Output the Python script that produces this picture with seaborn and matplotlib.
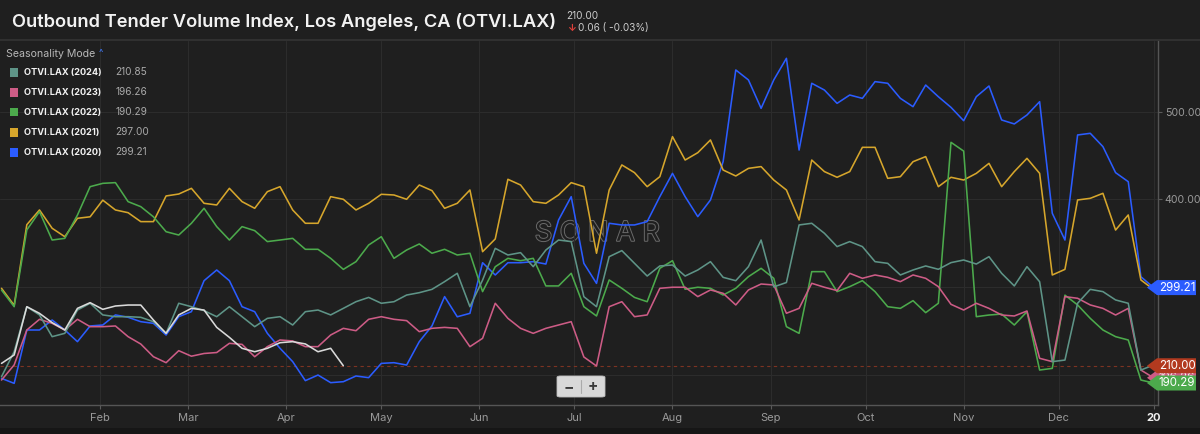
import numpy as np
import pandas as pd
import seaborn as sns
import matplotlib.pyplot as plt
import matplotlib.transforms as mtransforms
import matplotlib.patheffects as pe
from matplotlib.patches import Polygon, Rectangle, FancyBboxPatch
from matplotlib.lines import Line2D

# day of year, sampled every 4 days
days = list(range(0, 365, 4))

otvi_2020 = [195.6, 189.9, 250.8, 250.8, 262.2, 250.8, 237.5, 255.4, 256.5, 268, 265.3, 260.3,
             258.4, 245.1, 266, 271.7, 307.1, 319.3, 307.1, 277.4, 271.7, 247, 229.9, 214.7,
             193, 199.4, 190.7, 191.8, 198.3, 196.4, 212.7, 213.5, 210.8, 237.5, 255.4, 288.9,
             265.9, 269.8, 327.6, 313.6, 327.6, 327.6, 328.8, 326.1, 376.3, 403, 326.9, 304,
             372.6, 370.7, 370.7, 374.5, 403, 429.6, 403, 380.2, 399.2, 443, 547.6, 536.2,
             503.8, 536.2, 560.9, 456.2, 532.4, 524.7, 509.5, 519, 515.2, 534.3, 532.4,
             515.2, 505.7, 530.4, 517.1, 504.9, 489.7, 517.1, 529.3, 490.5, 486, 496.2,
             511.4, 384, 353.5, 473.4, 475.3, 460.1, 430.4, 420.1, 311.6, 299.21]

otvi_2021 = [298.4, 279, 371, 387.8, 366.9, 357.3, 378.3, 380, 399, 387.8, 384.7, 374.5,
             374.5, 403.8, 406, 412.5, 395.4, 393.5, 412.5, 397.3, 389.7, 408.7, 414.4, 387.8,
             372.6, 372.6, 403, 400, 387.8, 395.4, 405.7, 404.9, 400, 416.3, 409.9, 389.7,
             395.4, 410.6, 340.2, 354.7, 422.8, 416.3, 397.3, 395.4, 404.9, 419, 414.4, 338.4,
             410.6, 439.2, 430.4, 414.4, 425.8, 471.5, 444.8, 453.2, 467.7, 433.4, 426.6, 435.3,
             437.3, 422, 410.6, 376.4, 444.8, 431.6, 425.1, 431.6, 459.3, 459.3, 423.9,
             425.8, 442.9, 448.7, 414.4, 425.1, 422, 429.6, 441, 414.4, 431.6, 446.7,
             429.6, 313.6, 320, 399.2, 401.1, 406.8, 364.9, 382.1, 307.9, 297.0]

otvi_2022 = [296.4, 277.4, 365, 385.9, 353.5, 355.4, 382, 414.4, 418.2, 419, 397.3, 391.6,
             380, 363, 359.2, 372.6, 389.7, 368.8, 353.5, 368.8, 364.2, 351.7, 353.5, 355.4,
             342.9, 342.9, 332.6, 320, 328.8, 347.8, 357.3, 332.6, 342.1, 349, 338.4, 342.9,
             336.4, 338.4, 294.6, 323, 332.6, 329.9, 332.6, 301.1, 301.1, 315.5, 277.4, 266.8,
             307.9, 298.4, 288, 283.1, 321.2, 329.9, 297.3, 299.6, 298.4, 290.7, 298.4, 311.7,
             321.2, 309.8, 254.6, 247, 317.4, 317.4, 294.6, 300.3, 307.1, 294.6, 277.4,
             275.5, 284.3, 270.6, 281.3, 465, 455, 266, 267.9, 269, 256.5, 271.7,
             205.1, 207, 290.6, 279.4, 264.1, 250.8, 243.2, 239.4, 193.7, 190.29]

otvi_2023 = [193.7, 210.9, 250.8, 263, 258.4, 250.8, 263, 254.6, 254.6, 255.4, 243.2, 234.8,
             220.3, 213.5, 227.2, 220.9, 224, 225.1, 235.6, 234.4, 220.3, 231.8, 239.4, 238.3,
             231.8, 231.8, 245.1, 252.7, 250, 263, 266, 263, 261.5, 248.9, 252.7, 253.8,
             252.7, 231.8, 241.3, 281.3, 264.1, 252.7, 247, 252.7, 256.5, 260.3, 220, 209.7,
             277.4, 283.1, 266, 268, 298.4, 299.6, 299.6, 288.9, 296.5, 292.7, 279.4, 296.5,
             303.3, 302.2, 269.9, 275.5, 304.1, 299.6, 295.8, 315.5, 309.8, 313.6, 310.9,
             306, 313.6, 309.8, 300.3, 280.1, 273.6, 281.3, 275.5, 267.9, 266.8, 272.5,
             218.5, 214.7, 288.9, 287, 279.4, 275.5, 267.9, 275.5, 205.1, 196.26]

otvi_2024 = [197.5, 226, 277.4, 268, 243.2, 247, 273.6, 281.3, 268, 266, 266, 265.3,
             260.3, 247, 281.3, 277.4, 272.9, 266, 277.4, 266, 254.6, 264.1, 266, 256.5,
             271.7, 273.6, 268, 275.5, 283.1, 288, 281.3, 283.1, 290.7, 293.4, 297.2, 306,
             315.5, 277.4, 307.8, 344, 336.4, 339.1, 323.1, 342.1, 353.5, 351.7, 288.8, 277.4,
             334.5, 341.4, 326.9, 312.4, 323.9, 325, 312.4, 319.3, 328.8, 310.9, 307.1, 323.1,
             353.5, 300, 305, 370.7, 372.6, 361.2, 346, 351.7, 346, 328.8, 326.9,
             313.6, 319.3, 323.9, 320.1, 327.7, 330.7, 326.1, 334.5, 315.5, 301.1, 323.1,
             305.9, 214.7, 216.5, 281.3, 297.2, 294.6, 285.1, 281.3, 205.1, 210.85]

# current year, runs only to late April
otvi_2025 = [212.7, 222.3, 277.4, 269.8, 259.2, 250.8, 275.5, 282, 274.4, 278.2, 279.3, 279.3,
             262.2, 247, 268, 275.5, 273.6, 253.8, 242.4, 229.9, 226, 229.9, 236.3, 237.5,
             234.9, 226, 229.9, 210.0]

series = {'2020': otvi_2020, '2021': otvi_2021, '2022': otvi_2022,
          '2023': otvi_2023, '2024': otvi_2024, '2025': otvi_2025}
colors = {'2020': '#2b5cff', '2021': '#d6a62c', '2022': '#4caa4c',
          '2023': '#cd5c86', '2024': '#5e9487', '2025': '#dadada'}

legend_years = ['2024', '2023', '2022', '2021', '2020']
legend_values = ['210.85', '196.26', '190.29', '297.00', '299.21']

current_value = 210.00
current_change = '0.06 ( -0.03%)'

month_ticks = [31, 59, 90, 120, 151, 181, 212, 243, 273, 304, 334, 364]
month_labels = ['Feb', 'Mar', 'Apr', 'May', 'Jun', 'Jul', 'Aug', 'Sep', 'Oct', 'Nov', 'Dec', '20']

rows = []
for yr, vals in series.items():
    for d, v in zip(days, vals):
        rows.append({'day': d, 'value': v, 'year': yr})
df = pd.DataFrame(rows)

bg = '#1f1f1f'
grid_c = '#2c2c2c'
sns.set_theme(style='dark')
plt.rcParams['font.family'] = ['Inter', 'DejaVu Sans']

W, H = 1200, 434
fig = plt.figure(figsize=(12, 4.34), dpi=100, facecolor=bg)


def fx(px):
    return px / W


def fy(py):
    return 1 - py / H


ax = fig.add_axes([0, fy(405), fx(1157.7), (405 - 40.7) / H])
ax.set_facecolor(bg)

sns.lineplot(data=df, x='day', y='value', hue='year', palette=colors,
             hue_order=['2020', '2021', '2022', '2023', '2024', '2025'],
             estimator=None, sort=False, linewidth=1.15, legend=False, ax=ax)

ax.axhline(current_value, color='#7d3322', linestyle=(0, (3, 3)), linewidth=0.8, zorder=1)

ax.set_xlim(-1.5 / 3.165, (1157.7 - 1.5) / 3.165)
ax.set_ylim(165.2, 581.0)

ax.set_xticks(month_ticks)
ax.set_xticklabels(month_labels)
ax.set_yticks([200, 300, 400, 500])
ax.set_yticklabels(['', '', '400.00', '500.00'])
ax.yaxis.tick_right()
ax.grid(True, color=grid_c, linewidth=0.8)
ax.set_xlabel('')
ax.set_ylabel('')

ax.tick_params(axis='x', colors='#5a5a5a', labelcolor='#9a9a9a', labelsize=8,
               length=3, width=0.8, pad=3, bottom=True)
ax.tick_params(axis='y', colors='#5a5a5a', labelcolor='#9a9a9a', labelsize=7.6,
               length=3, width=0.8, pad=2, right=True, left=False)
last = ax.get_xticklabels()[-1]
last.set_color('#f0f0f0')
last.set_fontweight('bold')

for side in ['top', 'left']:
    ax.spines[side].set_visible(False)
for side in ['bottom', 'right']:
    ax.spines[side].set_color('#555555')
    ax.spines[side].set_linewidth(1.0)

# price tags on the right axis
blend = mtransforms.blended_transform_factory(ax.transAxes, ax.transData)
px_per_unit = 0.876


def tag(value, label, color, z):
    h = 7.5 / px_per_unit
    x_tip = 1147 / 1157.7
    x_body = 1157 / 1157.7
    x_end = 1196 / 1157.7
    poly = Polygon([(x_tip, value), (x_body, value + h), (x_end, value + h),
                    (x_end, value - h), (x_body, value - h)], closed=True,
                   transform=blend, facecolor=color, edgecolor='none',
                   clip_on=False, zorder=z)
    ax.add_patch(poly)
    ax.text(1177 / 1157.7, value, label, transform=blend, color='white',
            fontsize=8.3, ha='center', va='center', clip_on=False, zorder=z + 0.5)


tag(float(legend_values[4]), legend_values[4], colors['2020'], 5)
tag(float(legend_values[1]), legend_values[1], colors['2023'], 6)
tag(current_value, f'{current_value:.2f}', '#b23a1f', 7)
tag(float(legend_values[2]), legend_values[2], colors['2022'], 8)

# watermark
ax.text(0.516, 0.47, 'S O N A R', transform=ax.transAxes, fontsize=19.5,
        color=bg, ha='center', va='center', zorder=0.5,
        path_effects=[pe.Stroke(linewidth=1.4, foreground='#6a6a6a'), pe.Normal()])

# title bar
fig.add_artist(Line2D([0, 1], [fy(40), fy(40)], color='#343434', linewidth=1.2))
fig.add_artist(Rectangle((0, 0), 1, fy(428), facecolor='#161616', edgecolor='none'))
fig.text(fx(12), fy(22), 'Outbound Tender Volume Index, Los Angeles, CA (OTVI.LAX)',
         fontsize=13.2, fontweight='semibold', color='#f2f2f2', va='center', ha='left')
fig.text(fx(566), fy(16), f'{current_value:.2f}', fontsize=7.2, color='#cccccc',
         va='center', ha='left')
fig.text(fx(567), fy(28), '↓', fontsize=7, color='#e0403a', fontweight='bold',
         va='center', ha='left')
fig.text(fx(578), fy(28), current_change, fontsize=7.2, color='#cccccc',
         va='center', ha='left')

# legend block
fig.text(fx(6), fy(54), 'Seasonality Mode', fontsize=7.6, color='#b8b8b8',
         va='center', ha='left')
fig.text(fx(99), fy(53), '^', fontsize=6.5, color='#3f7bff', va='center', ha='left')
for i, (yr, val) in enumerate(zip(legend_years, legend_values)):
    y = 72.3 + 20 * i
    fig.add_artist(Rectangle((fx(10), fy(y + 4.2)), fx(8.3), 8.4 / H,
                             facecolor=colors[yr], edgecolor='none'))
    fig.text(fx(24.3), fy(y), f'OTVI.LAX ({yr})', fontsize=6.6, fontweight='bold',
             color='#f2f2f2', va='center', ha='left')
    fig.text(fx(115.7), fy(y), val, fontsize=7.3, color='#a8a8a8', va='center', ha='left')

# zoom buttons
fig.add_artist(FancyBboxPatch((fx(557), fy(397)), fx(48), 21 / H,
                              boxstyle='round,pad=0,rounding_size=0.003',
                              facecolor='#d8d8d8', edgecolor='#bdbdbd', linewidth=0.6))
fig.add_artist(Line2D([fx(581), fx(581)], [fy(393), fy(380)], color='#aaaaaa', linewidth=0.8))
fig.text(fx(569), fy(386.5), '−', fontsize=11, color='#3a3a3a', fontweight='bold',
         ha='center', va='center')
fig.text(fx(593), fy(386.5), '+', fontsize=11, color='#3a3a3a', fontweight='bold',
         ha='center', va='center')

fig.savefig('out.png', dpi=100, facecolor=bg)
